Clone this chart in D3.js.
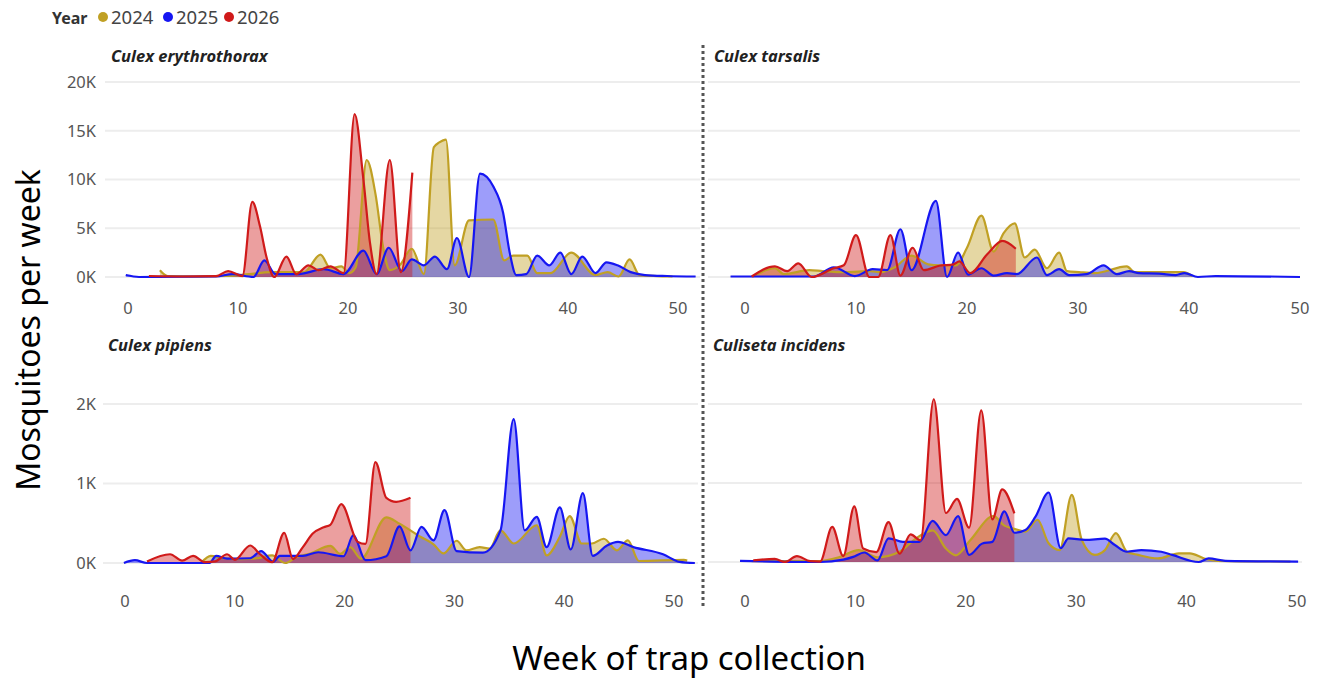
<!DOCTYPE html>
<html><head><meta charset="utf-8">
<script src="https://cdn.jsdelivr.net/npm/d3@7"></script>
<style>
html,body{margin:0;padding:0;background:#fff;}
svg{display:block;font-family:"Segoe UI","Noto Sans","Open Sans",sans-serif;}
</style></head>
<body><svg id="chart" width="1322" height="682"></svg>
<script>
// ---------- DATA (week, mosquitoes per week) ----------
const years = ["2024", "2025", "2026"];
const species = ["Culex erythrothorax", "Culex tarsalis", "Culex pipiens", "Culiseta incidens"];
const xTicks = [0, 10, 20, 30, 40, 50];
const yTicksTop = [0, 5000, 10000, 15000, 20000];
const yTickLabelsTop = ["0K", "5K", "10K", "15K", "20K"];
const yTicksBottom = [0, 1000, 2000];
const yTickLabelsBottom = ["0K", "1K", "2K"];

const erythro2024 = [[2.9,700],[3.6,100],[6,50],[9,100],[11,300],[13,500],[16,500],[17.5,2300],[18.4,900],[19.4,1100],[20.1,400],[20.7,1000],[21.7,12000],[22.5,8500],[23.2,3000],[23.8,700],[24.7,1200],[25.8,2900],[26.9,300],[27.8,13300],[28.3,13800],[28.9,14100],[29.7,1200],[31.0,5800],[33.2,5900],[34.2,1700],[35,2200],[36.3,2200],[37.2,400],[38.4,400],[40.3,2500],[42.5,200],[43.6,500],[44.6,50],[45.6,1800],[46.5,200],[49.5,50]];
const erythro2025 = [[-0.2,200],[1,0],[8,50],[9.5,300],[11.4,0],[12.4,1700],[13.4,300],[15.5,300],[17.8,800],[19.6,300],[21.4,2700],[22.6,300],[23.7,3000],[24.9,600],[25.8,1800],[26.9,1200],[27.9,2100],[29,800],[29.9,4000],[31.0,0],[32.0,10600],[33.2,9300],[34.1,6600],[34.7,2500],[35.3,200],[36.2,300],[37.2,2200],[38.3,1200],[39.3,2500],[40.3,300],[41.3,2100],[42.5,400],[43.5,1500],[44.5,1200],[45.7,500],[47,200],[49,100],[51.6,50]];
const erythro2026 = [[1.9,100],[5,50],[8,80],[9.1,600],[10.4,100],[11.3,7700],[12.0,5200],[12.6,2000],[13.3,0],[14.4,2100],[15.3,300],[16.4,1200],[17.3,700],[18.4,1100],[19.6,400],[20.6,16700],[21.4,10000],[22.0,3500],[22.6,300],[23.8,12000],[24.8,500],[25.85,10700]];

const tarsalis2024 = [[0.7,50],[2.7,900],[3.5,300],[5.8,700],[7,600],[9,500],[11.3,600],[12.2,500],[13.5,1000],[15.0,2200],[16.5,1300],[17.5,1200],[19.0,1200],[20.0,3000],[21.3,6300],[22.4,2600],[23.3,4500],[24.3,5500],[25.2,2000],[26.1,2800],[27.2,900],[28.3,2500],[29.0,600],[30.1,500],[31.5,400],[34.4,1100],[35.1,500],[38,500],[39.5,500],[40.3,100]];
const tarsalis2025 = [[-1.3,50],[5,50],[6.2,50],[8.0,1000],[9.9,100],[11.5,800],[12.8,700],[14.0,4900],[15.0,700],[17.2,7800],[18.2,0],[19.2,2500],[20.1,250],[21.3,900],[22.4,150],[23.6,400],[24.5,300],[26.3,2000],[27.2,200],[28.3,800],[29.2,200],[30.8,300],[32.3,1200],[33.5,300],[34.6,600],[35.5,400],[37.3,350],[38.8,200],[39.6,400],[40.8,0],[42.4,100],[50,0]];
const tarsalis2026 = [[0.6,50],[2.7,1100],[3.8,600],[4.8,1400],[6.0,0],[8.0,900],[8.9,1200],[10.0,4300],[11.2,0],[12.0,0],[13.1,4300],[14.0,150],[15.1,3000],[16.1,700],[17.5,1150],[18.8,1300],[19.3,1600],[20.3,400],[21.8,2300],[23.2,3700],[24.4,2900]];

const pipiens2024 = [[7.0,10],[7.8,90],[9,60],[10.5,50],[12,60],[13.4,95],[14.6,0],[15.6,75],[16.8,115],[18.7,215],[19.6,115],[20.5,200],[21.5,55],[23.8,575],[25.0,495],[26.9,330],[28.1,235],[29.0,120],[30.2,280],[31.1,160],[32.3,200],[33.2,180],[34.2,410],[35.4,245],[37.5,475],[38.4,95],[39.6,330],[40.5,590],[41.6,245],[42.5,245],[43.6,305],[44.8,160],[45.8,285],[46.8,25],[50.9,40],[51.2,30]];
const pipiens2025 = [[-0.1,0],[0.9,35],[2.0,0],[7.7,0],[8.3,90],[9.3,55],[11.4,60],[12.4,150],[13.5,15],[14.1,90],[16.2,90],[17.6,135],[19.9,85],[20.8,350],[21.9,35],[23.8,85],[25.0,460],[26.0,160],[27.0,455],[28.1,285],[29.1,665],[30.2,150],[32.6,130],[34.2,410],[35.4,1810],[36.4,410],[37.5,580],[38.4,200],[39.6,700],[40.6,170],[41.7,880],[42.6,90],[43.9,220],[44.9,265],[46.3,200],[49.0,110],[50.5,15],[51.9,0]];
const pipiens2026 = [[2,20],[4.1,110],[5.2,30],[6.2,90],[7.3,10],[8.2,20],[9.3,110],[10.0,40],[11.4,220],[12.3,110],[13.4,10],[14.5,380],[15.3,50],[16.2,200],[17.1,370],[18.1,450],[18.7,480],[19.7,740],[21.2,265],[21.9,240],[22.8,1270],[23.8,820],[24.7,770],[26.0,820]];

const incidens2024 = [[0.6,10],[6.5,10],[8.5,60],[10.3,150],[12,60],[14,130],[15.5,300],[17.0,400],[18.2,170],[19.1,85],[20.4,275],[22.5,580],[23.5,460],[24.4,420],[25.4,385],[26.5,535],[27.5,237],[28.5,150],[29.6,850],[30.5,280],[31.7,90],[32.6,150],[33.6,365],[34.6,130],[35.6,90],[37.4,45],[39.3,110],[40.3,110],[41.6,45],[42.8,15],[49.4,5]];
const incidens2025 = [[-0.45,15],[6.8,0],[8.9,30],[9.8,65],[10.8,120],[12.0,20],[13.0,300],[14.3,255],[15.8,255],[17.0,520],[18.2,340],[19.3,580],[20.3,90],[21.5,235],[22.4,255],[23.5,640],[24.4,370],[25.4,405],[26.3,570],[27.5,880],[28.6,175],[29.3,300],[30.8,280],[32.6,295],[33.5,215],[34.6,130],[35.9,150],[37.7,130],[38.7,90],[41.1,0],[42.0,45],[43.5,15],[50.1,5]];
const incidens2026 = [[0.75,20],[2.7,40],[3.6,0],[4.7,75],[5.9,10],[6.8,5],[7.9,445],[8.9,75],[9.9,705],[10.7,170],[11.9,125],[13.0,505],[14.0,105],[15.0,350],[15.9,275],[17.1,2060],[18.2,620],[19.2,800],[20.3,435],[21.4,1920],[22.4,540],[23.3,920],[24.4,615]];

// ---------- LAYOUT ----------
const colors = {"2024": "#C0A024", "2025": "#1616F2", "2026": "#D01A1A"};
const svg = d3.select("#chart");

const panels = [
  {title: species[0], series: [erythro2024, erythro2025, erythro2026], xr: [128, 678], grid: [105, 700], yr: [277, 82], yd: [0, 20000], ticks: yTicksTop, labels: yTickLabelsTop, showY: true, titlePos: [111, 62], xLabelY: 314},
  {title: species[1], series: [tarsalis2024, tarsalis2025, tarsalis2026], xr: [745, 1300], grid: [708, 1300], yr: [277, 82], yd: [0, 20000], ticks: yTicksTop, labels: yTickLabelsTop, showY: false, titlePos: [714, 62], xLabelY: 314},
  {title: species[2], series: [pipiens2024, pipiens2025, pipiens2026], xr: [125, 674], grid: [103, 698], yr: [563, 404], yd: [0, 2000], ticks: yTicksBottom, labels: yTickLabelsBottom, showY: true, titlePos: [108, 351], xLabelY: 607},
  {title: species[3], series: [incidens2024, incidens2025, incidens2026], xr: [745, 1297], grid: [708, 1302], yr: [562, 404], yd: [0, 2000], ticks: yTicksBottom, labels: yTickLabelsBottom, showY: false, titlePos: [713, 351], xLabelY: 607}
];

panels.forEach(p => {
  const x = d3.scaleLinear().domain([0, 50]).range(p.xr);
  const y = d3.scaleLinear().domain(p.yd).range(p.yr);
  const g = svg.append("g");

  g.selectAll("line.grid").data(p.ticks).join("line")
    .attr("x1", p.grid[0]).attr("x2", p.grid[1])
    .attr("y1", d => y(d)).attr("y2", d => y(d))
    .attr("stroke", "#ededed").attr("stroke-width", 2);

  if (p.showY) {
    g.selectAll("text.ytick").data(p.ticks).join("text")
      .attr("x", 96).attr("y", d => y(d)).attr("dy", "0.35em")
      .attr("text-anchor", "end").attr("font-size", 16.5).attr("fill", "#555")
      .text((d, i) => p.labels[i]);
  }

  g.selectAll("text.xtick").data(xTicks).join("text")
    .attr("x", d => x(d)).attr("y", p.xLabelY)
    .attr("text-anchor", "middle").attr("font-size", 16.5).attr("fill", "#555")
    .text(d => d);

  const area = d3.area().x(d => x(d[0])).y0(y(0)).y1(d => y(d[1])).curve(d3.curveMonotoneX);
  const line = d3.line().x(d => x(d[0])).y(d => y(d[1])).curve(d3.curveMonotoneX);

  p.series.forEach((s, i) => {
    g.append("path").attr("d", area(s)).attr("fill", colors[years[i]]).attr("fill-opacity", 0.42);
  });
  p.series.forEach((s, i) => {
    g.append("path").attr("d", line(s)).attr("fill", "none").attr("stroke", colors[years[i]])
      .attr("stroke-width", 2.2).attr("stroke-linejoin", "round");
  });

  g.append("text").attr("x", p.titlePos[0]).attr("y", p.titlePos[1])
    .attr("font-size", 16.5).attr("font-weight", "bold").attr("font-style", "italic").attr("fill", "#222")
    .text(p.title);
});

svg.append("line").attr("x1", 703).attr("x2", 703).attr("y1", 45).attr("y2", 606)
  .attr("stroke", "#555").attr("stroke-width", 3).attr("stroke-dasharray", "3,3");

const leg = svg.append("g");
leg.append("text").attr("x", 52).attr("y", 24).attr("font-size", 16).attr("font-weight", "bold").attr("fill", "#333").text("Year");
const legX = [103, 168, 229];
years.forEach((yr, i) => {
  leg.append("circle").attr("cx", legX[i]).attr("cy", 17).attr("r", 5).attr("fill", colors[yr]);
  leg.append("text").attr("x", legX[i] + 8).attr("y", 24).attr("font-size", 18.5).attr("fill", "#444").text(yr);
});

svg.append("text").attr("transform", "translate(40,330) rotate(-90)").attr("text-anchor", "middle")
  .attr("font-size", 32).attr("fill", "#000").text("Mosquitoes per week");
svg.append("text").attr("x", 689).attr("y", 670).attr("text-anchor", "middle")
  .attr("font-size", 33).attr("fill", "#000").text("Week of trap collection");
</script></body></html>
